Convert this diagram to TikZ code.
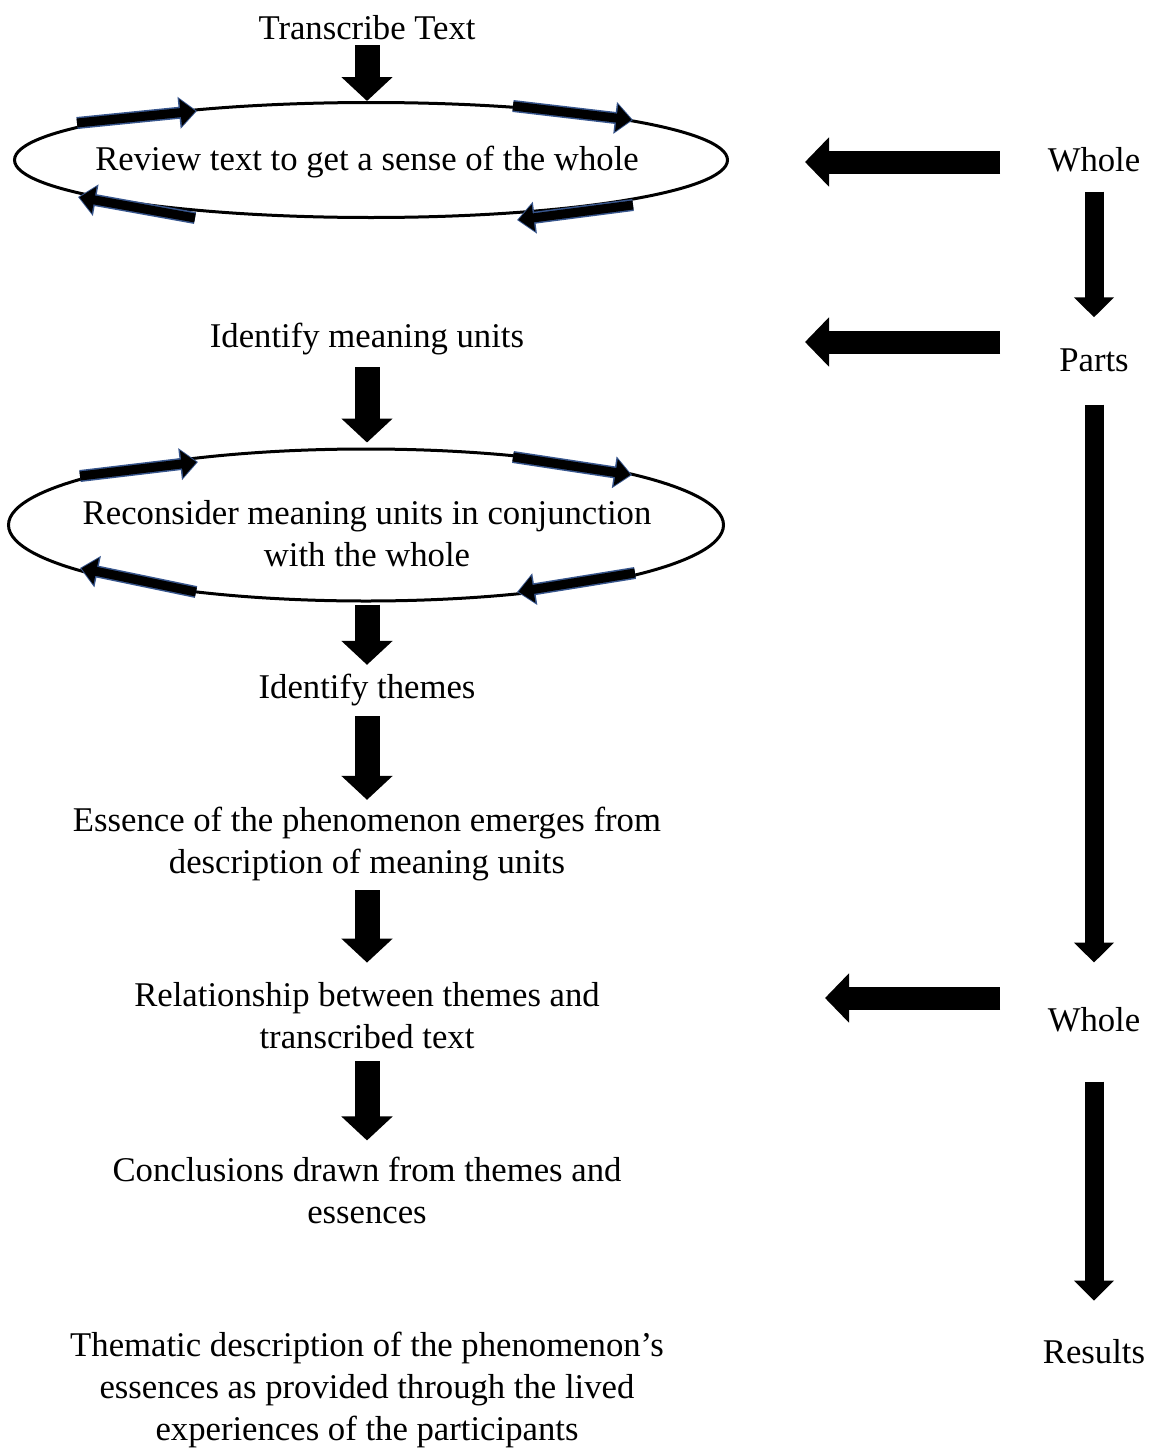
\documentclass[tikz,border=0pt]{standalone}
\usepackage{fontspec}
\setmainfont{Liberation Serif}
\usetikzlibrary{arrows.meta,calc,shapes.geometric}
\definecolor{rimblue}{RGB}{55,85,140}

\begin{document}
\begin{tikzpicture}[x=1pt,y=-1pt,
  font=\fontsize{34.7}{42}\selectfont,
  txt/.style={align=center,inner sep=0pt},
  loop/.style={draw,ellipse,line width=3pt,inner sep=0pt},
  bigdown/.style={line width=25pt,-{Triangle[length=24pt,width=50pt]}},
  sidearrow/.style={line width=23pt,-{Triangle[length=24pt,width=48pt]}},
  stepdown/.style={line width=19pt,-{Triangle[length=20pt,width=39pt]}},
  turnrim/.style={draw=rimblue,line width=12pt,-{Triangle[length=18pt,width=31pt]}},
  turn/.style={draw=black,line width=9pt,shorten >=1.5pt,-{Triangle[length=15pt,width=26pt]}}]
\useasboundingbox (0,0) rectangle (1149,1448);

% left column
\node[txt] (tt) at (367,28) {Transcribe Text};
\node[loop,minimum width=713pt,minimum height=115pt] (rev) at (371,160) {};
\node[txt] (revt) at (367,162) {Review text to get a sense of the whole};
\node[txt] (imu) at (367,339) {Identify meaning units};
\node[loop,minimum width=715pt,minimum height=152pt] (rec) at (366,525) {};
\node[txt] (rect) at (367,534) {Reconsider meaning units in conjunction\\with the whole};
\node[txt] (it) at (367,690) {Identify themes};
\node[txt] (ess) at (367,844) {Essence of the phenomenon emerges from\\description of meaning units};
\node[txt] (rel) at (367,1016) {Relationship between themes and\\transcribed text};
\node[txt] (con) at (367,1190) {Conclusions drawn from themes and\\essences};
\node[txt] (thm) at (367,1390) {Thematic description of the phenomenon’s\\essences as provided through the lived\\experiences of the participants};

% right column
\node[txt] (w1) at (1094,160) {Whole};
\node[txt] (parts) at (1094,360) {Parts};
\node[txt] (w2) at (1094,1020) {Whole};
\node[txt] (res) at (1094,1352) {Results};
\coordinate (w1a) at (1000,162);
\coordinate (w1b) at (805,162);
\coordinate (pa) at (1000,342);
\coordinate (pb) at (805,342);
\coordinate (w2a) at (1000,998);
\coordinate (w2b) at (825,998);

% main flow
\draw[bigdown,shorten <=5pt] (tt) -- (tt |- rev.north);
\draw[bigdown,shorten <=12pt,shorten >=5pt] (imu) -- (imu |- rec.north);
\draw[bigdown,shorten <=2pt,shorten >=9pt] (it |- rec.south) -- (it);
\draw[bigdown,shorten <=10pt,shorten >=7pt] (it) -- (ess);
\draw[bigdown,shorten <=9pt,shorten >=20pt] (ess) -- (rel);
\draw[bigdown,shorten <=12pt,shorten >=16pt] (rel) -- (con);

% whole and parts
\draw[stepdown,shorten <=19pt,shorten >=31pt] (w1) -- (parts);
\draw[stepdown,shorten <=33pt,shorten >=45pt] (parts) -- (w2);
\draw[stepdown,shorten <=49pt,shorten >=39pt] (w2) -- (res);
\foreach \a/\b in {w1a/w1b,pa/pb,w2a/w2b} \draw[sidearrow] (\a) -- (\b);

% small arrows round the loops
\foreach \ax/\ay/\bx/\by in {-294/-37/-174/-49,142/-54/262/-40,-176/58/-293/37,262/45/146/60} {
  \draw[turnrim] ($(rev)+(\ax,\ay)$) -- ($(rev)+(\bx,\by)$);
  \draw[turn] ($(rev)+(\ax,\ay)$) -- ($(rev)+(\bx,\by)$);
}
\foreach \ax/\ay/\bx/\by in {-286/-49/-168/-63,147/-68/266/-50,-170/67/-286/43,269/48/151/67} {
  \draw[turnrim] ($(rec)+(\ax,\ay)$) -- ($(rec)+(\bx,\by)$);
  \draw[turn] ($(rec)+(\ax,\ay)$) -- ($(rec)+(\bx,\by)$);
}
\end{tikzpicture}
\end{document}
